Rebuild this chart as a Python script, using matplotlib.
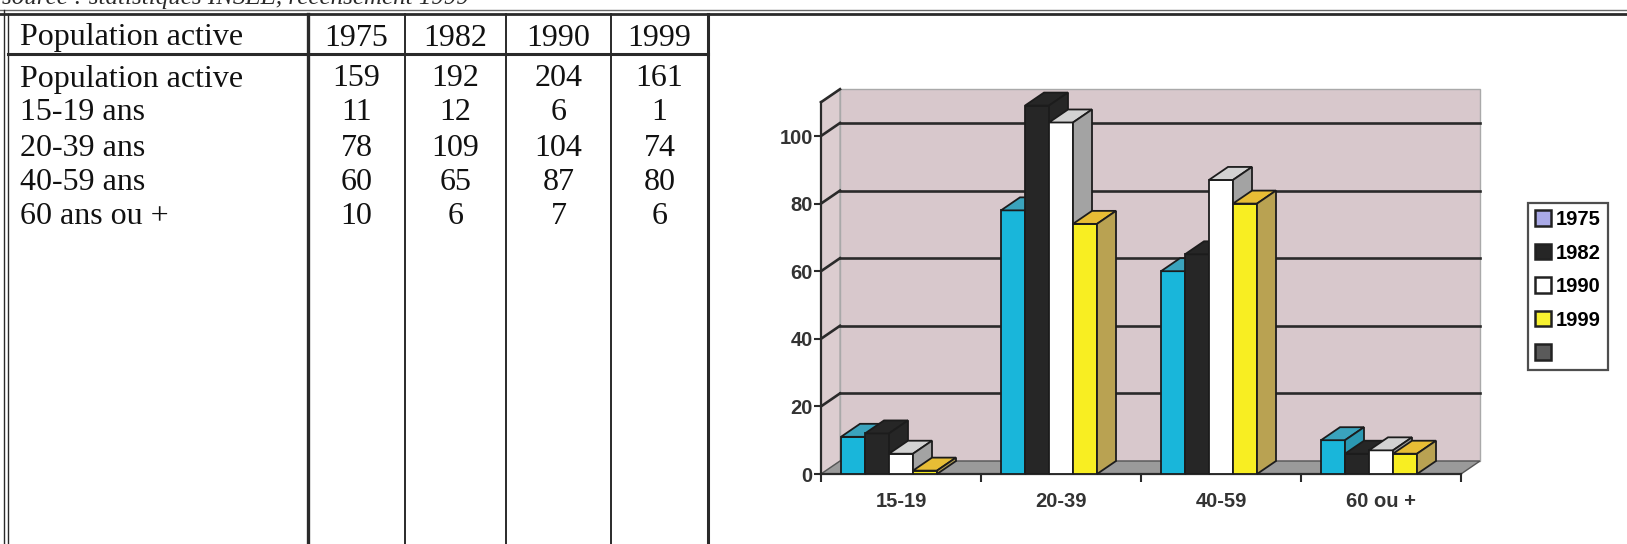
"""Population active par tranche d'âge : tableau des recensements et histogramme 3D."""

import matplotlib
matplotlib.use("Agg")
import matplotlib.pyplot as plt
from matplotlib.patches import Polygon, Patch

# --- données ---------------------------------------------------------------
years = ["1975", "1982", "1990", "1999"]
row_labels = ["Population active", "15-19 ans", "20-39 ans", "40-59 ans", "60 ans ou +"]
total_active = [159, 192, 204, 161]
age_15_19 = [11, 12, 6, 1]
age_20_39 = [78, 109, 104, 74]
age_40_59 = [60, 65, 87, 80]
age_60_plus = [10, 6, 7, 6]
categories = ["15-19", "20-39", "40-59", "60 ou +"]
y_ticks = [0, 20, 40, 60, 80, 100]
source_text = "source : statistiques INSEE, recensement 1999"

W, H = 1627, 544
fig = plt.figure(figsize=(W / 100, H / 100), dpi=100)
fig.patch.set_facecolor("white")

# --- page (tableau) en coordonnées pixel -------------------------------------
page = fig.add_axes([0, 0, 1, 1], zorder=0)
page.set_xlim(0, W)
page.set_ylim(H, 0)
page.set_axis_off()

ink = "#2a2a2a"
serif = "Liberation Serif"

# ligne de source, rognée par le bord supérieur de la page
page.text(2, 4, source_text, family=serif, style="italic", fontsize=18,
          color=ink, ha="left", va="baseline")

# double filet du haut, sur toute la largeur
page.plot([0, W], [9.5, 9.5], color="#6a6a6a", lw=1.0)
page.plot([0, W], [14, 14], color=ink, lw=2.0)

# filets verticaux du tableau
page.plot([4, 4], [9.5, H], color=ink, lw=1.0)
page.plot([8, 8], [14, H], color=ink, lw=1.0)
col_edges = [308, 405, 506, 611, 708]
col_lw = [2.4, 1.4, 1.4, 1.4, 2.2]
for x, lw in zip(col_edges, col_lw):
    page.plot([x, x], [14, H], color=ink, lw=lw)
page.plot([8, 708], [54, 54], color=ink, lw=2.2)

col_centres = [(a + b) / 2 for a, b in zip(col_edges[:-1], col_edges[1:])]
fs_table = 23

page.text(20, 38, "Population active", family=serif, fontsize=fs_table,
          color="#111", ha="left", va="center")
for xc, yr in zip(col_centres, years):
    page.text(xc, 38, yr, family=serif, fontsize=fs_table, color="#111",
              ha="center", va="center")

table_rows = [total_active, age_15_19, age_20_39, age_40_59, age_60_plus]
row_y = [79, 113, 149, 183, 217]
for y, label, vals in zip(row_y, row_labels, table_rows):
    page.text(20, y, label, family=serif, fontsize=fs_table, color="#111",
              ha="left", va="center")
    for xc, v in zip(col_centres, vals):
        page.text(xc, y, str(v), family=serif, fontsize=fs_table, color="#111",
                  ha="center", va="center")

# --- histogramme 3D ----------------------------------------------------------
x0_px, y0_px = 821, 474          # origine du graphe (pixels)
px_per_cat, px_per_unit = 160, 3.38
y_max = 110
ax = fig.add_axes([x0_px / W, (H - y0_px) / H,
                   4 * px_per_cat / W, y_max * px_per_unit / H], zorder=1)
ax.set_xlim(0, len(categories))
ax.set_ylim(0, y_max)
ax.patch.set_visible(False)

dx = 19 / px_per_cat             # profondeur en x (unités catégorie)
dy = 13 / px_per_unit            # profondeur en y (unités valeur)
n = len(categories)

wall = "#d8c8cc"
ax.add_patch(Polygon([(dx, dy), (n + dx, dy), (n + dx, y_max + dy), (dx, y_max + dy)],
                     closed=True, facecolor=wall, edgecolor="#a9a9a9", lw=1.0,
                     clip_on=False, zorder=1))
ax.add_patch(Polygon([(0, 0), (dx, dy), (dx, y_max + dy), (0, y_max)],
                     closed=True, facecolor="#dccdd0", edgecolor="#a9a9a9", lw=1.0,
                     clip_on=False, zorder=1))
ax.add_patch(Polygon([(0, 0), (n, 0), (n + dx, dy), (dx, dy)],
                     closed=True, facecolor="#9a9a9a", edgecolor="#555", lw=1.0,
                     clip_on=False, zorder=1.5))

for v in y_ticks[1:]:
    ax.plot([dx, n + dx], [v + dy, v + dy], color=ink, lw=1.9, zorder=2,
            clip_on=False)
    ax.plot([0, dx], [v, v + dy], color=ink, lw=1.9, zorder=2, clip_on=False)
ax.plot([0, dx], [y_max, y_max + dy], color=ink, lw=1.9, zorder=2, clip_on=False)

series = [
    # face, dessus, côté
    ("#19b6da", "#3aa3bd", "#2b98b2"),
    ("#262626", "#262626", "#262626"),
    ("#ffffff", "#d2d2d2", "#a3a3a3"),
    ("#f8ee22", "#e7bd35", "#b9a252"),
]
values_by_cat = [age_15_19, age_20_39, age_40_59, age_60_plus]
bar_w = 0.15
start = 0.125
z = 3.0
for i, vals in enumerate(values_by_cat):
    for j, h in enumerate(vals):
        front, top, side = series[j]
        left = i + start + j * bar_w
        edge = "#1c1c1c"
        ax.bar(left, h, width=bar_w, align="edge", color=front, edgecolor=edge,
               lw=1.3, zorder=z)
        ax.add_patch(Polygon([(left, h), (left + bar_w, h),
                              (left + bar_w + dx, h + dy), (left + dx, h + dy)],
                             closed=True, facecolor=top, edgecolor=edge, lw=1.3,
                             zorder=z + 0.001, clip_on=False))
        ax.add_patch(Polygon([(left + bar_w, 0), (left + bar_w + dx, dy),
                              (left + bar_w + dx, h + dy), (left + bar_w, h)],
                             closed=True, facecolor=side, edgecolor=edge, lw=1.3,
                             zorder=z + 0.002, clip_on=False))
        z += 0.01

for s in ["top", "right"]:
    ax.spines[s].set_visible(False)
for s in ["left", "bottom"]:
    ax.spines[s].set_color(ink)
    ax.spines[s].set_linewidth(1.6)
    ax.spines[s].set_zorder(2.5)

sans = "Liberation Sans"
ax.set_yticks(y_ticks)
ax.set_yticklabels([str(t) for t in y_ticks], family=sans, fontweight="bold",
                   fontsize=14.5, color="#333")
ax.tick_params(axis="y", direction="out", length=5, width=1.5, color=ink, pad=1)

ax.set_xticks(range(n + 1))
ax.set_xticklabels([])
ax.set_xticks([i + 0.5 for i in range(n)], minor=True)
ax.set_xticklabels(categories, minor=True, family=sans, fontweight="bold",
                   fontsize=14.5, color="#333")
ax.tick_params(axis="x", which="major", direction="out", length=6, width=1.5,
               color=ink)
ax.tick_params(axis="x", which="minor", length=0, pad=13)

legend_colors = ["#a9a9e6", "#262626", "#ffffff", "#f8f230", "#5a5a5a"]
handles = [Patch(facecolor=c, edgecolor="#222", lw=1.8) for c in legend_colors]
labels = years + [""]
leg = fig.legend(handles, labels, loc="upper left",
                 bbox_to_anchor=(1528 / W, 1 - 203 / H), borderaxespad=0,
                 frameon=True, fancybox=False, edgecolor="#222",
                 handlelength=0.8, handleheight=0.8, handletextpad=0.25,
                 labelspacing=0.72, borderpad=0.35,
                 prop={"family": sans, "weight": "bold", "size": 14.5})
leg.get_frame().set_linewidth(1.6)

fig.savefig("out.png", dpi=100)
